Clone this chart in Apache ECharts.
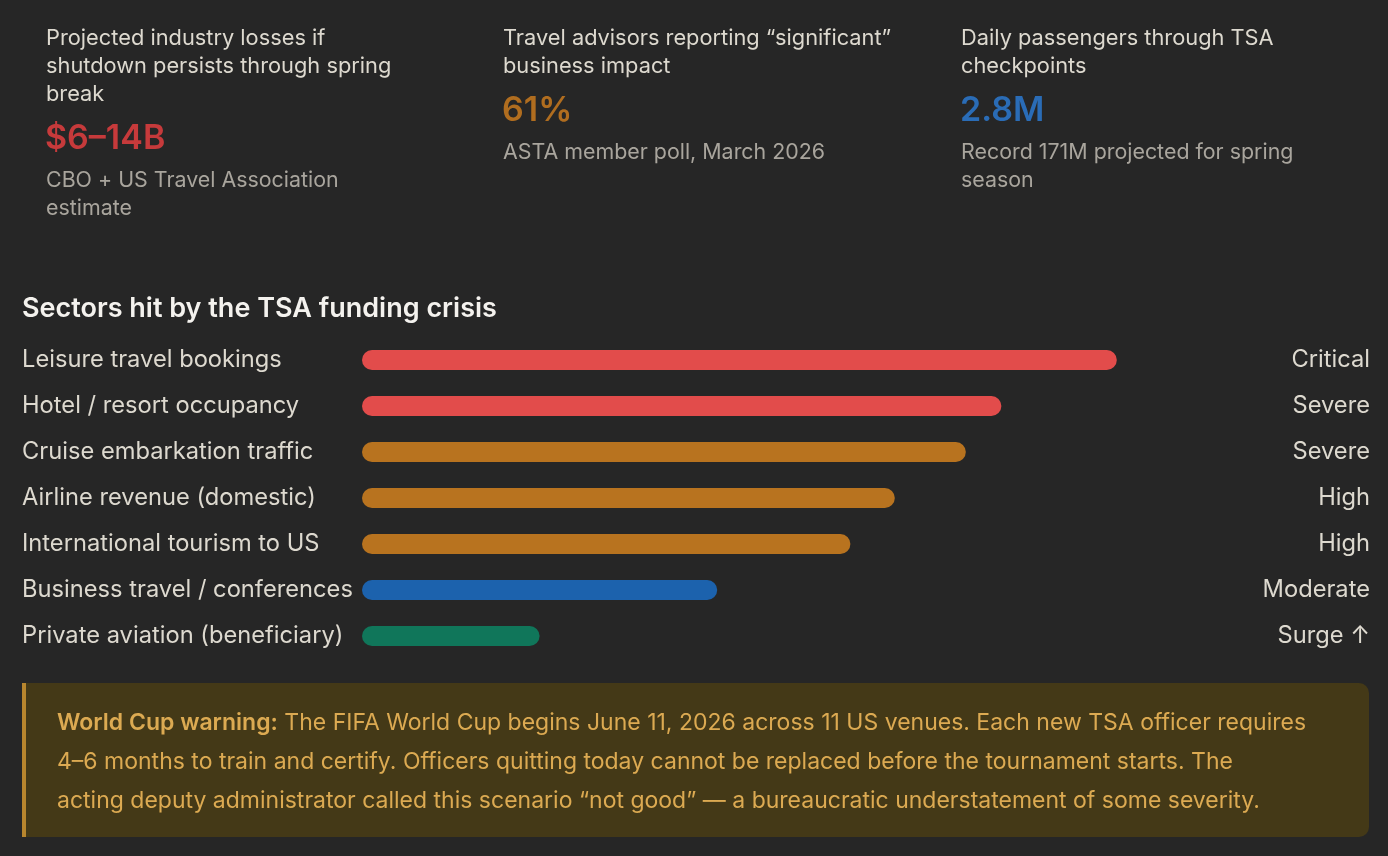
<!DOCTYPE html>
<html>
<head>
<meta charset="utf-8">
<script src="https://cdn.jsdelivr.net/npm/echarts@6/dist/echarts.min.js"></script>
<style>
    html, body { margin: 0; background: #262626; }
    #chart { width: 1388px; height: 856px; }
</style>
</head>
<body>
<div id="chart"></div>
<script>
    // sector bars
    const sectors = [
        'Leisure travel bookings',
        'Hotel / resort occupancy',
        'Cruise embarkation traffic',
        'Airline revenue (domestic)',
        'International tourism to US',
        'Business travel / conferences',
        'Private aviation (beneficiary)'
    ]
    const impactScores = [85, 72, 68, 60, 55, 40, 20]
    const severityLabels = ['Critical', 'Severe', 'Severe', 'High', 'High', 'Moderate', 'Surge \u2191']
    const barColors = ['#e24c4b', '#e24c4b', '#b8731f', '#b8731f', '#b8731f', '#1c62ad', '#10765a']

    // stat cards
    const kpiLabels = [
        ['Projected industry losses if', 'shutdown persists through spring', 'break'],
        ['Travel advisors reporting \u201csignificant\u201d', 'business impact'],
        ['Daily passengers through TSA', 'checkpoints']
    ]
    const kpiValues = ['$6\u201314B', '61%', '2.8M']
    const kpiNotes = [
        ['CBO + US Travel Association', 'estimate'],
        ['ASTA member poll, March 2026'],
        ['Record 171M projected for spring', 'season']
    ]
    const kpiColors = ['#c63a3b', '#b06d1f', '#2a6cb6']

    const warningTitle = 'World Cup warning:'
    const warningLines = [
        ' The FIFA World Cup begins June 11, 2026 across 11 US venues. Each new TSA officer requires',
        '4\u20136 months to train and certify. Officers quitting today cannot be replaced before the tournament starts. The',
        'acting deputy administrator called this scenario \u201cnot good\u201d \u2014 a bureaucratic understatement of some severity.'
    ]

    const fontFamily = 'Inter, "Noto Sans", sans-serif'
    const textColor = '#ddd9cf'
    const mutedColor = '#a9a59d'
    const cardX = [46, 503, 961]

    const chart = echarts.init(document.getElementById('chart'))

    const graphics = []
    kpiLabels.forEach((lines, i) => {
        let y = 38
        lines.forEach(line => {
            graphics.push({
                type: 'text', x: cardX[i], y,
                style: { text: line, fontFamily, fontSize: 21.8, fill: textColor, textVerticalAlign: 'middle' }
            })
            y += 28
        })
        y += 17
        graphics.push({
            type: 'text', x: cardX[i] - 1, y,
            style: { text: kpiValues[i], fontFamily, fontSize: 34, fontWeight: 600, fill: kpiColors[i], textVerticalAlign: 'middle' }
        })
        y += 42
        kpiNotes[i].forEach(line => {
            graphics.push({
                type: 'text', x: cardX[i], y,
                style: { text: line, fontFamily, fontSize: 21.4, fill: mutedColor, textVerticalAlign: 'middle' }
            })
            y += 28
        })
    })

    graphics.push({
        type: 'text', x: 22, y: 309,
        style: { text: 'Sectors hit by the TSA funding crisis', fontFamily, fontSize: 27, fontWeight: 600, fill: '#f4f2ee', textVerticalAlign: 'middle' }
    })

    // warning box
    graphics.push({
        type: 'rect', shape: { x: 22, y: 683, width: 1347, height: 154, r: [0, 10, 10, 0] },
        style: { fill: '#443917' }
    })
    graphics.push({
        type: 'rect', shape: { x: 22, y: 683, width: 4, height: 154 },
        style: { fill: '#b8862e' }
    })
    warningLines.forEach((line, i) => {
        graphics.push({
            type: 'text', x: 57, y: 723 + i * 39,
            style: {
                text: (i === 0 ? '{b|' + warningTitle + '}' : '') + line,
                fontFamily, fontSize: 23, fill: '#dcaa52', textVerticalAlign: 'middle',
                rich: { b: { fontFamily, fontSize: 23, fontWeight: 600, fill: '#dcaa52' } }
            }
        })
    })

    const option = {
        backgroundColor: '#262626',
        animation: false,
        grid: { left: 362, right: 138, top: 337, bottom: 197 },
        xAxis: {
            type: 'value', min: 0, max: 100, show: false,
            splitLine: { show: false }
        },
        yAxis: [
            {
                type: 'category', data: sectors, inverse: true,
                axisLine: { show: false }, axisTick: { show: false },
                axisLabel: { align: 'left', margin: 340, padding: [4, 0, 0, 0], fontFamily, fontSize: 23.7, color: textColor }
            },
            {
                type: 'category', data: severityLabels, inverse: true, position: 'right',
                axisLine: { show: false }, axisTick: { show: false },
                axisLabel: { align: 'right', margin: 120, padding: [4, 0, 0, 0], fontFamily, fontSize: 23.7, color: textColor }
            }
        ],
        series: [{
            type: 'bar',
            data: impactScores.map((v, i) => ({ value: v, itemStyle: { color: barColors[i] } })),
            barWidth: 20,
            itemStyle: { borderRadius: 10 }
        }],
        graphic: graphics
    }

    chart.setOption(option)
</script>
</body>
</html>
